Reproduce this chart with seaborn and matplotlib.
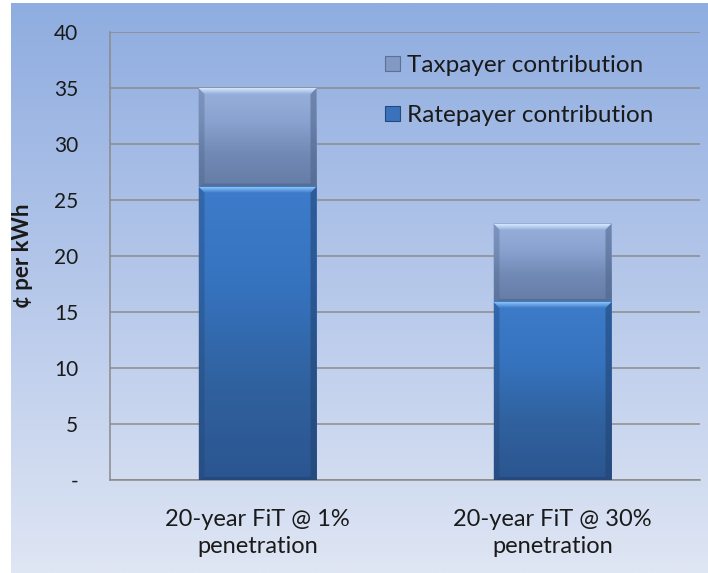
import numpy as np
import pandas as pd
import matplotlib
matplotlib.use("Agg")
import matplotlib.pyplot as plt
import matplotlib.colors as mcolors
from matplotlib.patches import Rectangle, Polygon
import seaborn as sns

categories = ["20-year FiT @ 1%\npenetration", "20-year FiT @ 30%\npenetration"]
ratepayer = [26.2, 15.9]
taxpayer = [8.8, 7.0]
yticks = [0, 5, 10, 15, 20, 25, 30, 35, 40]
yticklabels = ["-", "5", "10", "15", "20", "25", "30", "35", "40"]
series_names = ["Taxpayer contribution", "Ratepayer contribution"]

sns.set_theme(style="white")
plt.rcParams["font.family"] = ["Lato", "DejaVu Sans"]

W, H = 708, 573
fig = plt.figure(figsize=(W / 100, H / 100), dpi=100)
fig.patch.set_facecolor("white")

# background gradient
bg = fig.add_axes([11 / W, 0, 1 - 11 / W, 1 - 3 / H], zorder=-10)
grad = np.linspace(0, 1, 256)[:, None]
cmap_bg = mcolors.LinearSegmentedColormap.from_list("bg", ["#8fade0", "#b6c8ea", "#dfe6f4"])
bg.imshow(grad, aspect="auto", cmap=cmap_bg, extent=[0, 1, 0, 1], origin="upper")
bg.set_axis_off()

AX_L, AX_R, AX_B, AX_T = 110, 700, 480, 32
ax = fig.add_axes([AX_L / W, 1 - AX_B / H, (AX_R - AX_L) / W, (AX_B - AX_T) / H])
ax.patch.set_alpha(0)

df = pd.DataFrame({"cat": categories, "rate": ratepayer, "tax": taxpayer})
df["total"] = df["rate"] + df["tax"]

sns.barplot(data=df, x="cat", y="total", color="#7f98c4", width=0.4, ax=ax,
            saturation=1, zorder=3, edgecolor="none")
n_tot = len(ax.patches)
sns.barplot(data=df, x="cat", y="rate", color="#3a72bb", width=0.4, ax=ax,
            saturation=1, zorder=4, edgecolor="none")

ax.set_xlim(-0.5, 1.5)
ax.set_ylim(0, 40)

tax_cmap = mcolors.LinearSegmentedColormap.from_list("tax", ["#98b1dc", "#8aa2cf", "#7189b5", "#657ca6"])
rate_cmap = mcolors.LinearSegmentedColormap.from_list("rate", ["#3d7cca", "#3673bf", "#30629f", "#2b5590"])

px_x = 2.0 / (AX_R - AX_L)
px_y = 40.0 / (AX_B - AX_T)
bev_x = 6 * px_x
bev_y = 6 * px_y

for i, p in enumerate(ax.patches):
    x0, y0 = p.get_x(), p.get_y()
    w, h = p.get_width(), p.get_height()
    if i < n_tot:
        y_low = df["rate"].iloc[i]
        y_high = y0 + h
        cm = tax_cmap
        light = ["#d3e8ff", "#98b1dc"]
        side = "#4d6488"
        z = 5
    else:
        y_low = y0
        y_high = y0 + h
        cm = rate_cmap
        light = ["#8cc2f7", "#3d7cca"]
        side = "#22426f"
        z = 6
    ax.imshow(np.linspace(0, 1, 128)[:, None], aspect="auto", cmap=cm,
              extent=[x0, x0 + w, y_low, y_high], origin="upper", zorder=z)
    x1 = x0 + w
    lside = Polygon([(x0, y_low), (x0, y_high), (x0 + bev_x, y_high - bev_y), (x0 + bev_x, y_low + bev_y * 0.5)],
                    closed=True, facecolor=side, alpha=0.35, lw=0, zorder=z + 0.1)
    rside = Polygon([(x1, y_low), (x1, y_high), (x1 - bev_x, y_high - bev_y), (x1 - bev_x, y_low + bev_y * 0.5)],
                    closed=True, facecolor=side, alpha=0.55, lw=0, zorder=z + 0.1)
    bside = Polygon([(x0, y_low), (x1, y_low), (x1 - bev_x, y_low + bev_y * 0.5), (x0 + bev_x, y_low + bev_y * 0.5)],
                    closed=True, facecolor=side, alpha=0.6, lw=0, zorder=z + 0.1)
    for poly in (lside, rside, bside):
        ax.add_patch(poly)
    top = Polygon([(x0, y_high), (x1, y_high), (x1 - bev_x, y_high - bev_y), (x0 + bev_x, y_high - bev_y)],
                  closed=True, facecolor="none", lw=0, zorder=z + 0.2)
    ax.add_patch(top)
    tcm = mcolors.LinearSegmentedColormap.from_list("t%d" % i, light)
    im = ax.imshow(np.linspace(0, 1, 32)[:, None], aspect="auto", cmap=tcm,
                   extent=[x0, x1, y_high - bev_y, y_high], origin="upper", zorder=z + 0.2)
    im.set_clip_path(top)

ax.set_xlim(-0.5, 1.5)
ax.set_ylim(0, 40)
ax.set_yticks(yticks)
ax.set_yticklabels(yticklabels, fontsize=15, color="#1a1a1a")
ax.tick_params(axis="x", labelsize=17, colors="#1a1a1a", pad=21, length=0)
ax.tick_params(axis="y", length=8, width=1, color="#8a8a8a", pad=15)
for lbl in ax.get_xticklabels():
    lbl.set_linespacing(1.35)
ax.grid(axis="y", color="#8c8c8c", lw=1.1, zorder=1)
ax.set_axisbelow(True)
for s in ["top", "right"]:
    ax.spines[s].set_visible(False)
for s in ["left", "bottom"]:
    ax.spines[s].set_color("#8a8a8a")
    ax.spines[s].set_linewidth(1.1)
ax.set_xticks([-0.5, 0.5, 1.5], minor=True)
ax.tick_params(axis="x", which="minor", length=8, width=1, color="#8a8a8a", direction="out")
ax.set_xlabel("")
ax.set_ylabel("¢ per kWh", fontsize=16, fontweight="bold", color="#1a1a1a")
ax.yaxis.set_label_coords((33 - AX_L) / (AX_R - AX_L), 0.5)

handles = [Rectangle((0, 0), 1, 1, facecolor="#8299c4", edgecolor="#5d7096", lw=0.8),
           Rectangle((0, 0), 1, 1, facecolor="#3a72bb", edgecolor="#24497c", lw=0.8)]
leg = ax.legend(handles, series_names, loc="upper left",
                bbox_to_anchor=((385 - AX_L) / (AX_R - AX_L), 1 - (70 - AX_T - 15) / (AX_B - AX_T)),
                frameon=False, fontsize=17.5, handlelength=0.6, handleheight=0.6,
                handletextpad=0.3, labelspacing=1.2, borderaxespad=0, borderpad=0)
for t in leg.get_texts():
    t.set_color("#1a1a1a")

fig.savefig("out.png", dpi=100, facecolor=fig.get_facecolor())
